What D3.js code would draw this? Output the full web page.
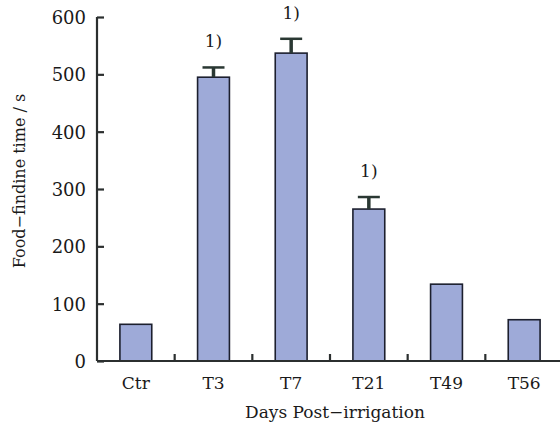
<!DOCTYPE html>
<html>
<head>
<meta charset="utf-8">
<script src="https://cdn.jsdelivr.net/npm/d3@7"></script>
<style>
  body { margin: 0; background: #fff; }
  text { font-family: "DejaVu Serif", serif; fill: #1a1a1a; }
</style>
</head>
<body>
<div id="chart"></div>
<script>
// values
var categories = ["Ctr", "T3", "T7", "T21", "T49", "T56"];
var means = [64, 495, 537, 265, 134, 72];
var errors = [0, 17, 25, 21, 0, 0];
var marks = ["", "1)", "1)", "1)", "", ""];
var yTicks = [0, 100, 200, 300, 400, 500, 600];

var width = 560, height = 425;
var margin = {top: 17, right: -3, bottom: 64, left: 97};

var svg = d3.select("#chart").append("svg")
    .attr("width", width)
    .attr("height", height);

var x = d3.scaleBand()
    .domain(categories)
    .range([margin.left, width - margin.right])
    .paddingInner(0.59)
    .paddingOuter(0.295);

var y = d3.scaleLinear()
    .domain([0, 600])
    .range([height - margin.bottom, margin.top]);

var rows = categories.map(function(c, i) {
  return {cat: c, mean: means[i], err: errors[i], mark: marks[i]};
});

// bars
svg.selectAll(".bar")
    .data(rows)
    .enter().append("rect")
      .attr("class", "bar")
      .attr("x", function(d) { return x(d.cat); })
      .attr("y", function(d) { return y(d.mean); })
      .attr("width", x.bandwidth())
      .attr("height", function(d) { return y(0) - y(d.mean); })
      .attr("fill", "#9eaad8")
      .attr("stroke", "#1c1f2e")
      .attr("stroke-width", 1.6);

// error bars
var eb = svg.selectAll(".err")
    .data(rows.filter(function(d) { return d.err > 0; }))
    .enter().append("g")
      .attr("class", "err")
      .attr("stroke", "#2a3833");

eb.append("line")
    .attr("x1", function(d) { return x(d.cat) + x.bandwidth() / 2; })
    .attr("x2", function(d) { return x(d.cat) + x.bandwidth() / 2; })
    .attr("y1", function(d) { return y(d.mean); })
    .attr("y2", function(d) { return y(d.mean + d.err); })
    .attr("stroke-width", 3.5);

eb.append("line")
    .attr("x1", function(d) { return x(d.cat) + x.bandwidth() / 2 - 11; })
    .attr("x2", function(d) { return x(d.cat) + x.bandwidth() / 2 + 11; })
    .attr("y1", function(d) { return y(d.mean + d.err); })
    .attr("y2", function(d) { return y(d.mean + d.err); })
    .attr("stroke-width", 2.5);

// significance marks
svg.selectAll(".mark")
    .data(rows.filter(function(d) { return d.mark; }))
    .enter().append("text")
      .attr("class", "mark")
      .attr("x", function(d) { return x(d.cat) + x.bandwidth() / 2; })
      .attr("y", function(d) { return y(d.mean + d.err) - 20; })
      .attr("text-anchor", "middle")
      .attr("font-size", 17)
      .text(function(d) { return d.mark; });

// y axis
var yAxis = svg.append("g")
    .attr("transform", "translate(" + margin.left + ",0)")
    .call(d3.axisRight(y).tickValues(yTicks).tickSize(7).tickFormat(d3.format("d")));
yAxis.attr("font-family", null).attr("font-size", null);
yAxis.select(".domain").attr("stroke", "#2b2f2f").attr("stroke-width", 2.2)
    .attr("d", "M0," + y(600) + "V" + y(0));
yAxis.selectAll(".tick line").attr("stroke", "#2b2f2f").attr("stroke-width", 2.2);
yAxis.selectAll(".tick text")
    .attr("x", -11)
    .attr("dy", "0.36em")
    .attr("text-anchor", "end")
    .attr("font-size", 18)
    .attr("fill", "#1a1a1a");

// x axis line and ticks between categories
var base = svg.append("g");
base.append("line")
    .attr("x1", margin.left).attr("x2", width)
    .attr("y1", y(0)).attr("y2", y(0))
    .attr("stroke", "#2b2f2f").attr("stroke-width", 2.2);

var step = x.step();
base.selectAll(".xt")
    .data(categories.slice(1))
    .enter().append("line")
      .attr("class", "xt")
      .attr("x1", function(d) { return x(d) - x.paddingOuter() * step; })
      .attr("x2", function(d) { return x(d) - x.paddingOuter() * step; })
      .attr("y1", y(0))
      .attr("y2", y(0) - 7)
      .attr("stroke", "#2b2f2f").attr("stroke-width", 2.2);

svg.selectAll(".xlab")
    .data(categories)
    .enter().append("text")
      .attr("class", "xlab")
      .attr("x", function(d) { return x(d) + x.bandwidth() / 2; })
      .attr("y", 389)
      .attr("text-anchor", "middle")
      .attr("font-size", 17)
      .text(function(d) { return d; });

// axis titles
svg.append("text")
    .attr("x", 335)
    .attr("y", 418)
    .attr("text-anchor", "middle")
    .attr("font-size", 17)
    .text("Days Post\u2212irrigation");

svg.append("text")
    .attr("transform", "translate(25,181) rotate(-90)")
    .attr("text-anchor", "middle")
    .attr("font-size", 16)
    .text("Food\u2212findine time / s");
</script>
</body>
</html>
